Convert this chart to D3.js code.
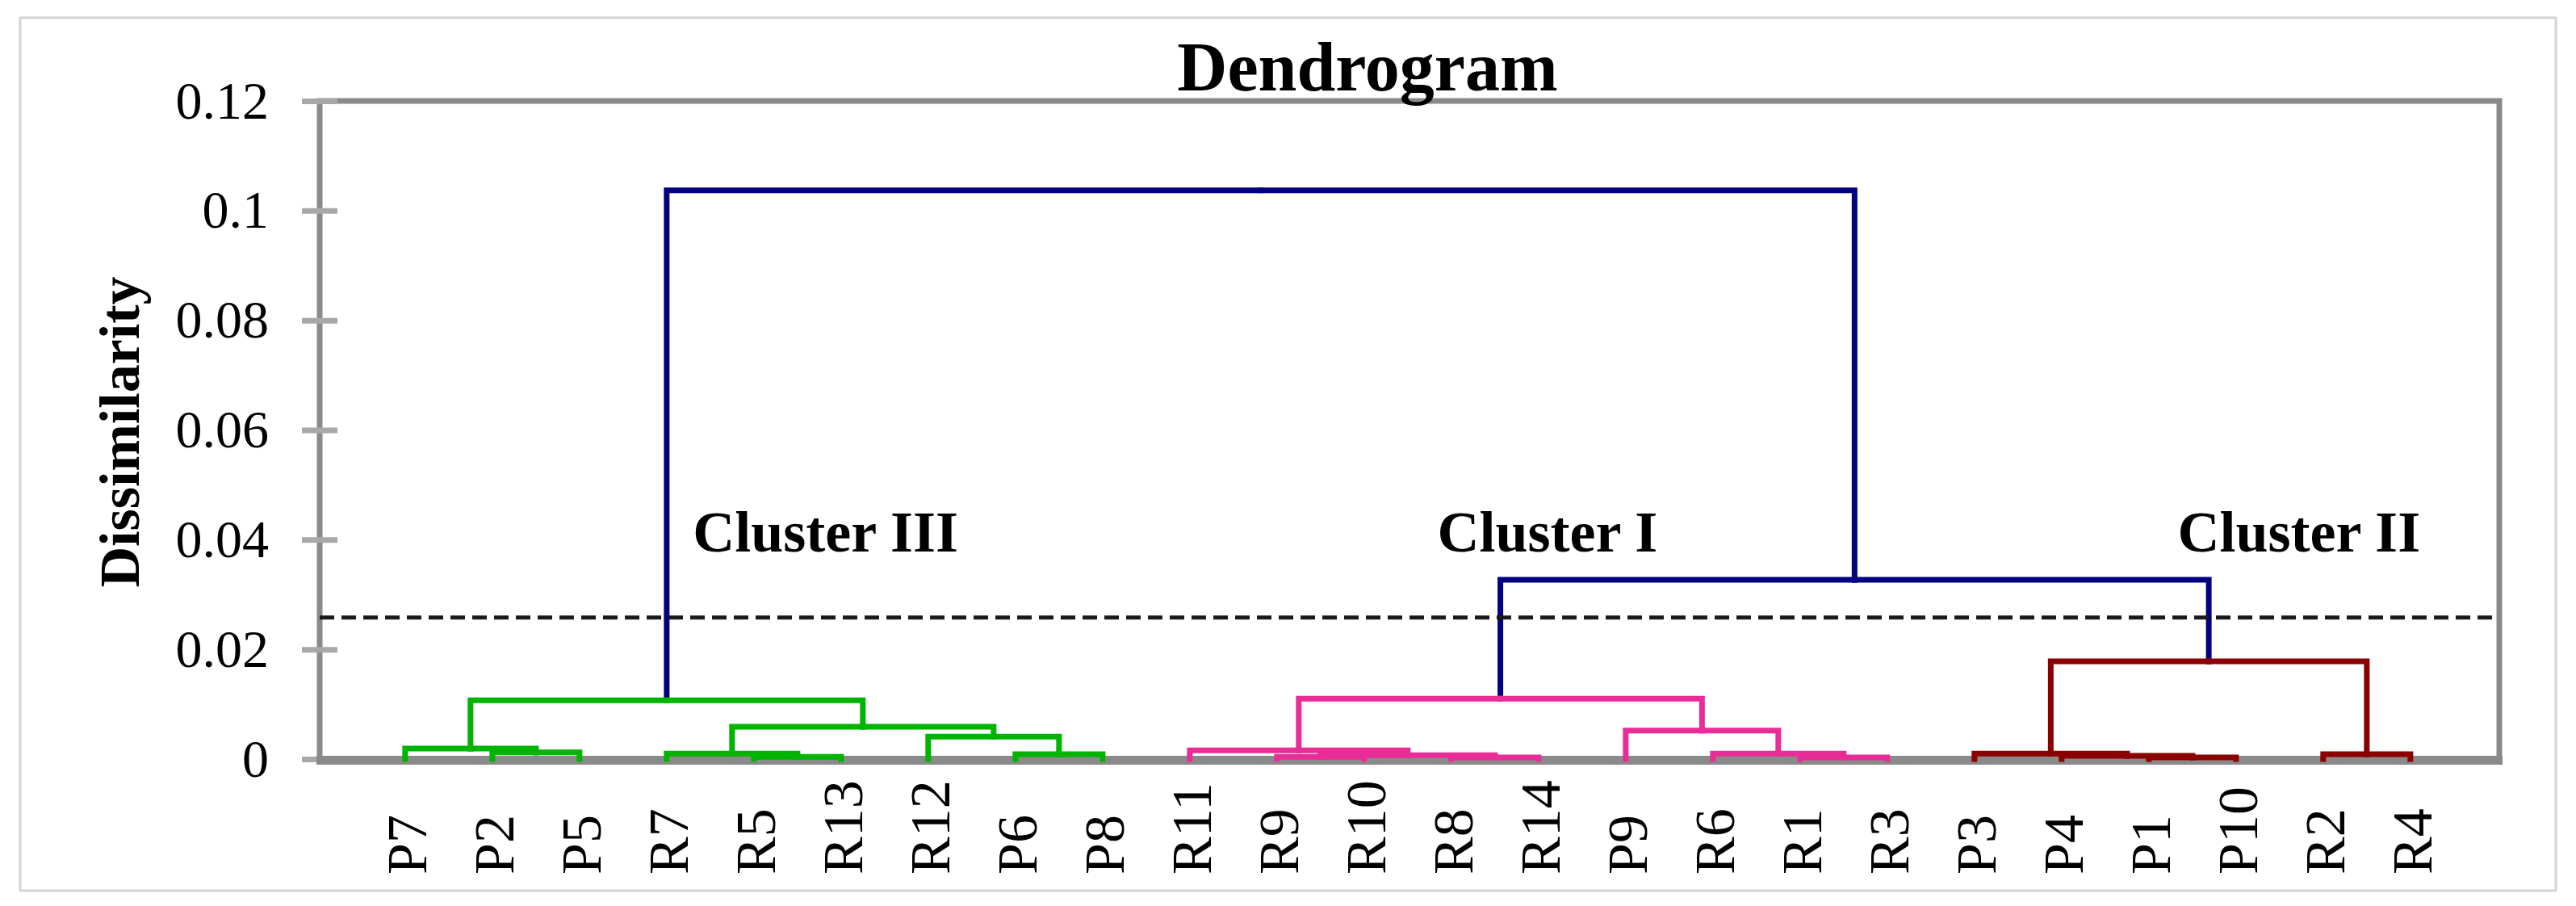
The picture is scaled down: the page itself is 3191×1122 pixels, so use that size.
<!DOCTYPE html>
<html lang="en">
<head>
<meta charset="utf-8">
<title>Dendrogram</title>
<script src="https://cdn.jsdelivr.net/npm/d3@7/dist/d3.min.js"></script>
<style>
    body { margin: 0; background: #fff; }
    text { font-family: "Liberation Serif", "Times New Roman", serif; }
</style>
</head>
<body>
<script>

// leaves in the order they appear along the x axis
var leafNames = ["P7", "P2", "P5", "R7", "R5", "R13", "R12", "P6", "P8",
                 "R11", "R9", "R10", "R8", "R14", "P9", "R6", "R1", "R3",
                 "P3", "P4", "P1", "P10", "R2", "R4"];

// linkage: ids < 24 are leaves, id 24 + k is merge k
var mergeLeft   = [1, 0, 4, 3, 7, 6, 27, 25, 10, 12, 32, 9, 16, 15, 14, 35, 20, 19, 18, 22, 42, 39, 31];
var mergeRight  = [2, 24, 5, 26, 8, 28, 29, 30, 11, 13, 33, 34, 17, 36, 37, 38, 21, 40, 41, 23, 43, 44, 45];
var mergeHeight = [0.0012, 0.0019, 0.0004, 0.0010, 0.0009, 0.0041, 0.0059, 0.0107,
                   0.0004, 0.0003, 0.0007, 0.0016, 0.0003, 0.0010, 0.0052, 0.0110,
                   0.0003, 0.0006, 0.0010, 0.0009, 0.0178, 0.0327, 0.1037];

var yTicks = [0, 0.02, 0.04, 0.06, 0.08, 0.1, 0.12];
var yTickLabels = ["0", "0.02", "0.04", "0.06", "0.08", "0.1", "0.12"];

var clusterNames = ["Cluster III", "Cluster I", "Cluster II"];
var clusterNodes = [31, 39, 44];
var cutLevel = 0.0258;

var w = 3191, h = 1122;
var plotL = 396, plotR = 3096, plotT = 125, plotB = 940;
var clusterColours = ["#00b400", "#e92d96", "#8b0000"];
var navy = "#000080";

var svg = d3.select("body")
    .append("svg")
    .attr("width", w)
    .attr("height", h);

// outer frame
svg.append("rect")
    .attr("x", 25).attr("y", 22)
    .attr("width", 3141).attr("height", 1081)
    .attr("fill", "none")
    .attr("stroke", "#d4d4d4")
    .attr("stroke-width", 3);

var nLeaf = leafNames.length;
// leaves sit at 0.5 .. 23.5, with roughly one leaf gap at each end
var x = d3.scaleLinear().domain([-0.48, nLeaf + 0.52]).range([plotL, plotR]);
var y = d3.scaleLinear().domain([0, 0.12]).range([plotB, plotT]);

// build the tree from the linkage
function build(id) {
    if (id < nLeaf) return {id: id, name: leafNames[id], h: 0};
    var k = id - nLeaf;
    return {id: id, h: mergeHeight[k], children: [build(mergeLeft[k]), build(mergeRight[k])]};
}
var root = d3.hierarchy(build(nLeaf + mergeHeight.length - 1));
d3.cluster().size([nLeaf, 1]).separation(function() { return 1; })(root);

root.each(function(d) { d.colour = navy; });
clusterNodes.forEach(function(id, i) {
    var n = root.find(function(d) { return d.data.id === id; });
    n.each(function(d) { d.colour = clusterColours[i]; });
});

// plot border
svg.append("rect")
    .attr("x", plotL).attr("y", plotT)
    .attr("width", plotR - plotL).attr("height", plotB - plotT)
    .attr("fill", "none")
    .attr("stroke", "#8a8a8a")
    .attr("stroke-width", 7);

// y axis
var yAxis = svg.append("g")
    .attr("transform", "translate(" + plotL + ",0)")
    .call(d3.axisLeft(y)
        .tickValues(yTicks)
        .tickFormat(function(d, i) { return yTickLabels[i]; })
        .tickSize(22)
        .tickPadding(41));
yAxis.select(".domain").remove();
yAxis.selectAll(".tick line")
    .attr("x1", 22)
    .attr("stroke", "#a8a8a8")
    .attr("stroke-width", 7);
yAxis.selectAll(".tick text")
    .attr("font-family", "Liberation Serif")
    .attr("font-size", 66)
    .attr("fill", "#000");

// thick bottom axis
svg.append("line")
    .attr("x1", plotL - 4).attr("x2", plotR + 4)
    .attr("y1", plotB + 1.5).attr("y2", plotB + 1.5)
    .attr("stroke", "#8a8a8a")
    .attr("stroke-width", 11);

// links
svg.selectAll("path.link")
    .data(root.links())
    .enter()
    .append("path")
    .attr("class", "link")
    .attr("d", function(l) {
        return "M" + x(l.target.x) + "," + y(l.target.data.h)
            + "V" + y(l.source.data.h)
            + "H" + x(l.source.x);
    })
    .attr("fill", "none")
    .attr("stroke", function(l) { return l.source.colour; })
    .attr("stroke-width", 7)
    .attr("stroke-linecap", "square");

// cut line
svg.append("line")
    .attr("x1", plotL).attr("x2", plotR)
    .attr("y1", y(cutLevel)).attr("y2", y(cutLevel))
    .attr("stroke", "#1a1a1a")
    .attr("stroke-width", 5)
    .attr("stroke-dasharray", "18,9");

// leaf labels
svg.selectAll("text.leaf")
    .data(root.leaves())
    .enter()
    .append("text")
    .attr("class", "leaf")
    .attr("transform", function(d) { return "translate(" + x(d.x) + ",1083) rotate(-90)"; })
    .attr("dy", "0.38em")
    .attr("font-size", 70)
    .text(function(d) { return d.data.name; });

// cluster labels (x in leaf units)
var clusterLabelX = [3.80, 12.34, 20.83];
svg.selectAll("text.cluster")
    .data(clusterNames)
    .enter()
    .append("text")
    .attr("class", "cluster")
    .attr("x", function(d, i) { return x(clusterLabelX[i]); })
    .attr("y", 683)
    .attr("font-size", 72)
    .attr("font-weight", "bold")
    .text(function(d) { return d; });

// title
svg.append("text")
    .attr("x", 1694)
    .attr("y", 112)
    .attr("text-anchor", "middle")
    .attr("font-size", 86)
    .attr("font-weight", "bold")
    .text("Dendrogram");

// y title
svg.append("text")
    .attr("transform", "translate(172,535) rotate(-90)")
    .attr("text-anchor", "middle")
    .attr("font-size", 70)
    .attr("font-weight", "bold")
    .text("Dissimilarity");

</script>
</body>
</html>
